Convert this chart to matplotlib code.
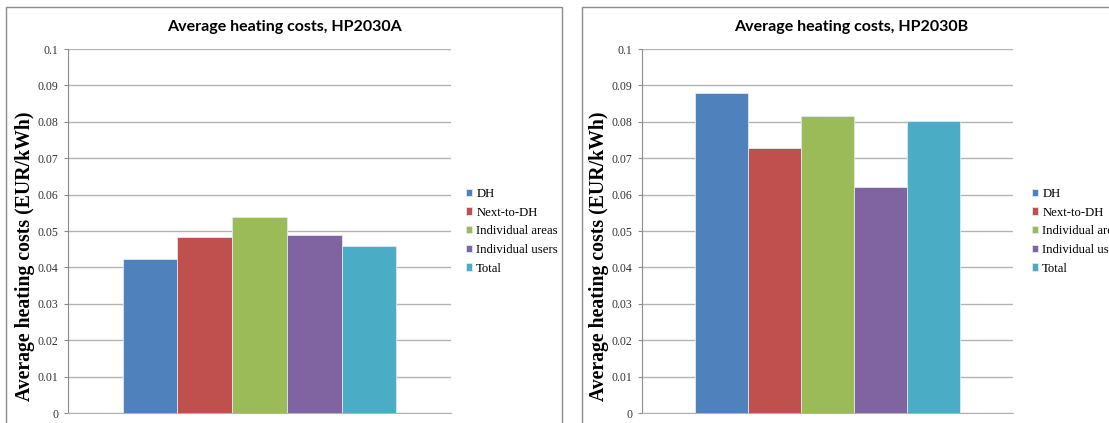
import matplotlib

matplotlib.use("Agg")
import matplotlib.pyplot as plt
from matplotlib.patches import Rectangle

W, H = 1109, 423

series = ["DH", "Next-to-DH", "Individual areas", "Individual users", "Total"]
costs_a = [0.0422, 0.0483, 0.0538, 0.0489, 0.0460]
costs_b = [0.0880, 0.0729, 0.0815, 0.0622, 0.0803]
titles = ["Average heating costs, HP2030A", "Average heating costs, HP2030B"]
y_ticks = [0, 0.01, 0.02, 0.03, 0.04, 0.05, 0.06, 0.07, 0.08, 0.09, 0.1]
y_tick_labels = ["0", "0.01", "0.02", "0.03", "0.04", "0.05", "0.06", "0.07", "0.08", "0.09", "0.1"]

COLORS = ["#4f81bd", "#c0504d", "#9bbb59", "#8064a2", "#4bacc6"]
GRID = "#b3b3b3"
FRAME = "#8c8c8c"
SERIF = "Liberation Serif"

# (panel box, plot area) in pixels: left, top, right, bottom; then legend x and y-label right edge
PANELS = [
    ((6, 7, 562, 430), (68, 49, 451, 413), 468, 35),
    ((582, 7, 1120, 430), (642, 49, 1013, 413), 1034, 609),
]


def px_rect(left, top, right, bottom):
    return [left / W, 1 - bottom / H, (right - left) / W, (bottom - top) / H]


def draw_panel(fig, panel, area, legend_x, label_x, values, title):
    pl, pt, pr, pb = panel
    al, at, ar, ab = area
    fig.patches.append(
        Rectangle((pl / W, 1 - pb / H), (pr - pl) / W, (pb - pt) / H,
                  transform=fig.transFigure, fill=False, edgecolor=FRAME, linewidth=1.0)
    )
    fig.text(((pl + pr) / 2) / W, 1 - 27 / H, title, ha="center", va="center",
             family="Lato", fontweight="bold", fontsize=11.5)

    ax = fig.add_axes(px_rect(*area))
    width = 2 / 7
    offsets = [(i - 2) * width for i in range(len(values))]
    handles = []
    for off, val, color, name in zip(offsets, values, COLORS, series):
        bars = ax.bar(off, val, width=width, color=color, edgecolor="#dfe8f0",
                      linewidth=0.6, label=name, zorder=3)
        handles.append(bars)

    ax.set_xlim(-3.5 * width, 3.5 * width)
    ax.set_ylim(0, 0.1)
    ax.set_yticks(y_ticks)
    ax.set_yticklabels(y_tick_labels, family=SERIF, fontsize=8.5, color="#333333")
    ax.set_xticks([])
    ax.grid(axis="y", color=GRID, linewidth=1.0, zorder=0)
    for side in ["top", "right"]:
        ax.spines[side].set_visible(False)
    ax.spines["left"].set_color(FRAME)
    ax.spines["bottom"].set_color(GRID)
    ax.tick_params(axis="y", length=3, color=FRAME, pad=4)
    ax.set_ylabel("Average heating costs (EUR/kWh)", family=SERIF, fontweight="bold",
                  fontsize=14.2)
    ax.yaxis.set_label_coords((label_x - al) / (ar - al), (ab - 256) / (ab - at))

    fig.legend(handles, series, loc="upper left",
               bbox_to_anchor=((legend_x - 2) / W, 1 - 188 / H),
               frameon=False, prop={"family": SERIF, "size": 9.2},
               handlelength=0.5, handleheight=0.5, handletextpad=0.3,
               labelspacing=0.52, borderpad=0, borderaxespad=0)


def main():
    fig = plt.figure(figsize=(W / 100, H / 100), dpi=100)
    fig.patch.set_facecolor("white")
    for (panel, area, legend_x, label_x), values, title in zip(PANELS, [costs_a, costs_b], titles):
        draw_panel(fig, panel, area, legend_x, label_x, values, title)
    fig.savefig("out.png", dpi=100)


if __name__ == "__main__":
    main()
